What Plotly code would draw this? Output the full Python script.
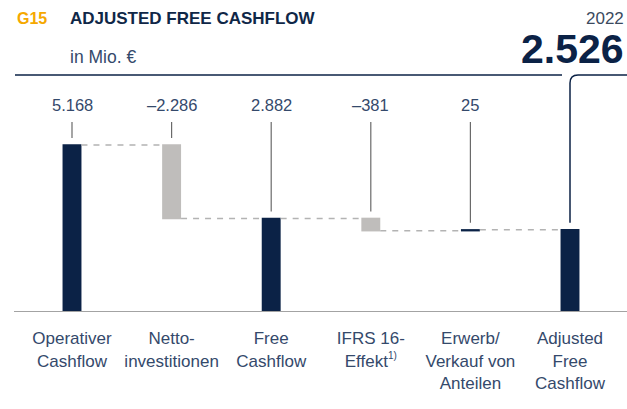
import plotly.graph_objects as go

# ---------------- data ----------------
categories = ["Operativer Cashflow", "Nettoinvestitionen", "Free Cashflow",
              "IFRS 16-Effekt", "Erwerb/Verkauf von Anteilen", "Adjusted Free Cashflow"]
tick_labels = ["Operativer<br>Cashflow", "Netto-<br>investitionen", "Free<br>Cashflow",
               "IFRS 16-<br>Effekt<sup><span style='font-size:10px'>1)</span></sup>",
               "Erwerb/<br>Verkauf von<br>Anteilen",
               "Adjusted<br>Free<br>Cashflow"]
measures = ["absolute", "relative", "total", "relative", "relative", "total"]
values = [5168, -2286, 2882, -381, 25, 2526]
year = "2022"
chart_id = "G15"
title = "ADJUSTED FREE CASHFLOW"
unit = "in Mio. €"

# ---------------- styles ----------------
NAVY = "#0b2246"
GRAY_BAR = "#bfbdbb"
TEXT = "#34496b"
FONT = "Liberation Sans, Arial, sans-serif"

W, H = 627, 409
ML, MR, MT, MB = 14, 0, 70, 98
PX0, PX1 = ML, W - MR
PY0, PY1 = MT, H - MB          # plot top / bottom (baseline) in px
CX0, STEP = 72, 99.6           # px centre of first bar, px between bars
K = (PY1 - 145) / values[0]    # px per unit


def xp(px):
    return (px - PX0) / (PX1 - PX0)


def yp(py):
    return (PY1 - py) / (PY1 - PY0)


def yv(py):
    return (PY1 - py) / K


def fmt(v):
    s = f"{abs(v):,}".replace(",", ".")
    return ("–" if v < 0 else "") + s


fig = go.Figure(go.Waterfall(
    x=categories, y=[v if m != "total" else 0 for v, m in zip(values, measures)],
    measure=measures, width=0.19,
    increasing=dict(marker=dict(color=NAVY)),
    decreasing=dict(marker=dict(color=GRAY_BAR)),
    totals=dict(marker=dict(color=NAVY)),
    connector=dict(mode="between", line=dict(color="#b3b3b3", width=1.5, dash="6px,6px")),
    hoverinfo="skip", showlegend=False,
))

# levels for leader lines
levels = []
cum = 0
for v, m in zip(values, measures):
    if m == "absolute":
        start, cum = 0, v
    elif m == "total":
        start = 0
    else:
        start, cum = cum, cum + v
    levels.append(max(start, cum))

shapes = []
annotations = []
gap = 7 / K
label_y = yv(105)
lead_top = yv(122)
for i, (v, top) in enumerate(zip(values, levels)):
    if i < len(values) - 1:
        shapes.append(dict(type="line", xref="x", yref="y", x0=i, x1=i,
                           y0=top + gap, y1=lead_top,
                           line=dict(color="#6a6a6a", width=1.2)))
        annotations.append(dict(xref="x", yref="y", x=i, y=label_y, text=fmt(v),
                                showarrow=False, xanchor="center", yanchor="middle",
                                font=dict(family=FONT, size=16.5, color=TEXT)))
    else:
        ytop = yv(75)
        rx, ry = 8 / STEP, 8 / K
        path = (f"M {i},{top + gap} L {i},{ytop - ry} "
                f"Q {i},{ytop} {i + rx},{ytop} L {i + 1},{ytop}")
        shapes.append(dict(type="path", xref="x", yref="y", path=path,
                           line=dict(color=NAVY, width=1.5)))

# header line on the left
shapes.append(dict(type="line", xref="paper", yref="paper", x0=xp(15), x1=xp(562),
                   y0=yp(75), y1=yp(75), line=dict(color=NAVY, width=1.5)))

annotations += [
    dict(xref="paper", yref="paper", x=xp(15), y=yp(18), text=f"<b>{chart_id}</b>",
         showarrow=False, xanchor="left", yanchor="middle",
         font=dict(family=FONT, size=16, color="#f5a800")),
    dict(xref="paper", yref="paper", x=xp(68), y=yp(18), text=f"<b>{title}</b>",
         showarrow=False, xanchor="left", yanchor="middle",
         font=dict(family=FONT, size=17, color="#0f2747")),
    dict(xref="paper", yref="paper", x=xp(68), y=yp(57), text=unit,
         showarrow=False, xanchor="left", yanchor="middle",
         font=dict(family=FONT, size=17.5, color=TEXT)),
    dict(xref="paper", yref="paper", x=xp(626), y=yp(18), text=year,
         showarrow=False, xanchor="right", yanchor="middle",
         font=dict(family=FONT, size=17, color="#3b4a5e")),
    dict(xref="paper", yref="paper", x=xp(626), y=yp(49), text=f"<b>{fmt(values[-1])}</b>",
         showarrow=False, xanchor="right", yanchor="middle",
         font=dict(family=FONT, size=41, color=NAVY)),
]

fig.update_layout(
    width=W, height=H, margin=dict(l=ML, r=MR, t=MT, b=MB, pad=0),
    paper_bgcolor="white", plot_bgcolor="white",
    shapes=shapes, annotations=annotations,
    xaxis=dict(type="category", categoryorder="array", categoryarray=categories,
               range=[(PX0 - CX0) / STEP, (PX1 - CX0) / STEP],
               tickvals=categories, ticktext=tick_labels, ticks="",
               ticklabelstandoff=12,
               showgrid=False, zeroline=False, showline=True,
               linecolor="#a3a3a3", linewidth=1,
               tickfont=dict(family=FONT, size=17, color=TEXT)),
    yaxis=dict(range=[0, (PY1 - PY0) / K], visible=False, showgrid=False, zeroline=False),
)

fig.write_html("out.html", config={"displayModeBar": False, "staticPlot": True},
               post_script="document.body.style.margin='0';"
                           "document.body.style.overflow='hidden';")
